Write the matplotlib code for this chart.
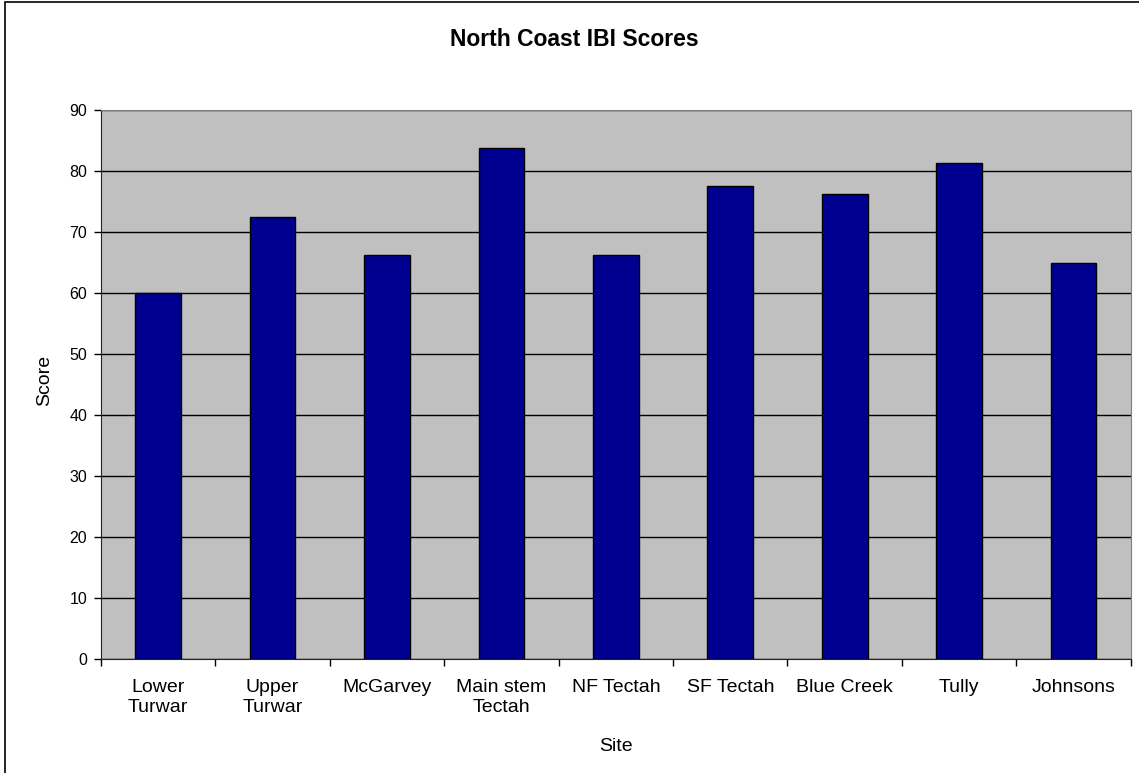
import matplotlib
matplotlib.use("Agg")
import matplotlib.pyplot as plt
from matplotlib.patches import Rectangle
import numpy as np

plt.rcParams['font.family'] = ['Liberation Sans', 'DejaVu Sans']

sites = ["Lower\nTurwar", "Upper\nTurwar", "McGarvey", "Main stem\nTectah",
         "NF Tectah", "SF Tectah", "Blue Creek", "Tully", "Johnsons"]
scores = [60.0, 72.5, 66.25, 83.75, 66.25, 77.5, 76.25, 81.25, 65.0]
yticks = list(range(0, 100, 10))

W, H = 1139, 773
fig = plt.figure(figsize=(W / 100, H / 100), dpi=100)

# outer chart frame (cut off on the right and bottom)
fig.patches.append(Rectangle((5 / W, -0.01), 1.2, 1 - 2 / H + 0.01,
                             transform=fig.transFigure, fill=False,
                             edgecolor='black', linewidth=1.2))

ax = fig.add_axes([101 / W, (H - 659.3) / H, (1130.7 - 101) / W, (659.3 - 110) / H])
ax.set_facecolor('#C0C0C0')

x = np.arange(len(sites))
ax.set_axisbelow(True)
ax.yaxis.grid(True, color='black', linewidth=1.0)
ax.bar(x, scores, width=0.4, color='#000090', edgecolor='black', linewidth=1.0, zorder=3)

ax.set_xlim(-0.5, len(sites) - 0.5)
ax.set_ylim(0, 90)
ax.set_yticks(yticks)
ax.tick_params(axis='y', direction='out', length=5, width=1, pad=5, labelsize=11.5)

ax.set_xticks(x)
ax.set_xticklabels(sites, fontsize=14)
ax.tick_params(axis='x', which='major', length=0, pad=14.5)
ax.set_xticks(np.arange(-0.5, len(sites)), minor=True)
ax.tick_params(axis='x', which='minor', direction='out', length=5, width=1)

for side in ['top', 'right']:
    ax.spines[side].set_color('#808080')
for side in ['left', 'bottom']:
    ax.spines[side].set_color('#222222')

fig.text(574 / W, 1 - 45.5 / H, "North Coast IBI Scores", ha='center', va='baseline',
         fontsize=16.5, fontweight='bold')
fig.text(615.7 / W, 1 - 750.7 / H, "Site", ha='center', va='baseline', fontsize=14)
fig.text(44.5 / W, 1 - 380.3 / H, "Score", ha='center', va='center', fontsize=14,
         rotation=90)

fig.savefig("out.png", dpi=100)
